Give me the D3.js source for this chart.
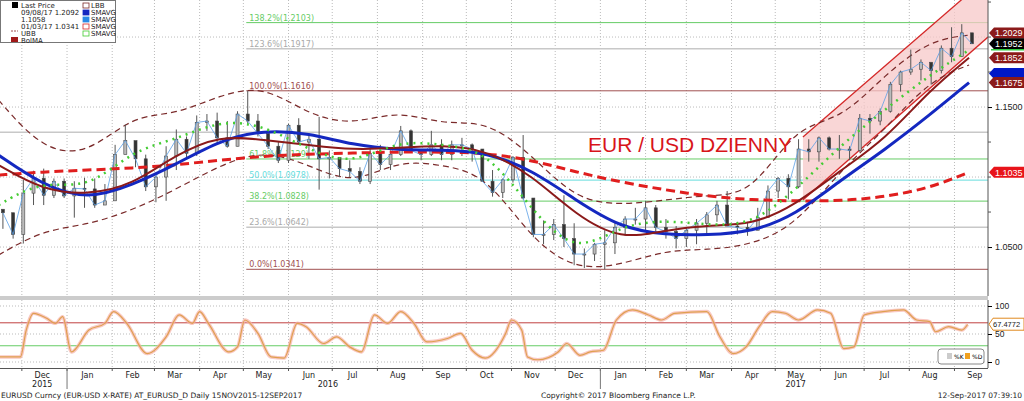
<!DOCTYPE html>
<html>
<head>
<meta charset="utf-8">
<script src="https://cdn.jsdelivr.net/npm/d3@7"></script>
<style>
  body { margin: 0; background: #fff; }
  svg { display: block; font-family: "DejaVu Sans", sans-serif; }
</style>
</head>
<body>
<div id="chart"></div>
<script>
// weekly candles, starting Mon 16 Nov 2015
const weekStart = "2015-11-16";
const closes = [1.0745,1.0590,1.0885,1.0990,1.0870,1.0970,1.0865,1.0920,1.0915,1.0800,1.0830,1.1160,1.1260,1.1130,1.0930,1.1000,1.1150,1.1270,1.1170,1.1390,1.1400,1.1280,1.1220,1.1450,1.1400,1.1310,1.1220,1.1120,1.1370,1.1250,1.1270,1.1130,1.1140,1.1060,1.1040,1.0970,1.1170,1.1090,1.1160,1.1330,1.1190,1.1160,1.1230,1.1160,1.1230,1.1230,1.1200,1.0970,1.0890,1.0980,1.1140,1.0850,1.0590,1.0590,1.0660,1.0560,1.0450,1.0450,1.0520,1.0530,1.0640,1.0700,1.0700,1.0780,1.0640,1.0610,1.0560,1.0620,1.0670,1.0730,1.0800,1.0650,1.0640,1.0620,1.0710,1.0900,1.0990,1.0930,1.1200,1.1180,1.1280,1.1200,1.1200,1.1190,1.1420,1.1400,1.1470,1.1660,1.1750,1.1770,1.1820,1.1760,1.1920,1.1860,1.2030,1.1952];
const highs = [1.0760,1.0720,1.0980,1.1045,1.1060,1.0990,1.0990,1.0970,1.0995,1.0990,1.0950,1.1230,1.1375,1.1250,1.1160,1.1010,1.1220,1.1340,1.1290,1.1440,1.1450,1.1460,1.1400,1.1470,1.1616,1.1450,1.1340,1.1250,1.1380,1.1420,1.1300,1.1430,1.1190,1.1120,1.1120,1.1070,1.1200,1.1230,1.1190,1.1365,1.1340,1.1190,1.1330,1.1270,1.1260,1.1280,1.1240,1.1200,1.1050,1.0990,1.1150,1.1300,1.0830,1.0690,1.0700,1.0870,1.0670,1.0490,1.0530,1.0620,1.0680,1.0720,1.0780,1.0830,1.0800,1.0700,1.0650,1.0640,1.0700,1.0750,1.0830,1.0900,1.0680,1.0680,1.0780,1.0940,1.1000,1.1020,1.1270,1.1270,1.1290,1.1290,1.1300,1.1220,1.1450,1.1450,1.1490,1.1680,1.1760,1.1910,1.1840,1.1810,1.1940,1.2070,1.2092,1.2030];
const lows = [1.0630,1.0560,1.0525,1.0800,1.0800,1.0850,1.0850,1.0710,1.0780,1.0780,1.0810,1.0830,1.1170,1.1070,1.0900,1.0820,1.0830,1.1050,1.1140,1.1150,1.1330,1.1230,1.1210,1.1220,1.1380,1.1290,1.1200,1.1100,1.1100,1.1240,1.1130,1.0910,1.0990,1.1000,1.1000,1.0950,1.0950,1.1050,1.1050,1.1150,1.1180,1.1120,1.1150,1.1120,1.1120,1.1150,1.1110,1.0970,1.0860,1.0850,1.0960,1.0840,1.0570,1.0520,1.0550,1.0500,1.0370,1.0350,1.0400,1.0341,1.0450,1.0580,1.0660,1.0620,1.0610,1.0560,1.0490,1.0500,1.0520,1.0600,1.0680,1.0650,1.0590,1.0580,1.0620,1.0710,1.0850,1.0840,1.0920,1.1110,1.1110,1.1190,1.1130,1.1120,1.1180,1.1310,1.1370,1.1460,1.1610,1.1730,1.1690,1.1660,1.1740,1.1820,1.1860,1.1950];

// studies read monthly, 15 Nov 2015 .. 11 Sep 2017
const smaStart = "2015-11-15";
const smaFast = [1.0800,1.0979,1.0907,1.1193,1.1264,1.1407,1.1371,1.1193,1.1086,1.1264,1.1229,1.1193,1.0764,1.0443,1.0657,1.0693,1.0657,1.0657,1.0907,1.1229,1.1479,1.1729,1.1907];
const sma50 = [1.1086,1.0907,1.0871,1.0943,1.1157,1.1300,1.1264,1.1229,1.1193,1.1207,1.1229,1.1193,1.1014,1.0729,1.0550,1.0621,1.0657,1.0657,1.0800,1.1050,1.1264,1.1621,1.1852];
const sma100 = [1.1157,1.0943,1.0836,1.0943,1.1086,1.1264,1.1336,1.1314,1.1229,1.1193,1.1193,1.1179,1.1050,1.0836,1.0636,1.0586,1.0586,1.0607,1.0729,1.0979,1.1193,1.1443,1.1675];
const sma200 = [1.1014,1.1036,1.1050,1.1064,1.1086,1.1121,1.1150,1.1164,1.1171,1.1179,1.1179,1.1171,1.1121,1.1036,1.0964,1.0907,1.0864,1.0836,1.0829,1.0829,1.0857,1.0921,1.1035];
const bbUpper = [1.1550,1.1193,1.1157,1.1443,1.1443,1.1586,1.1657,1.1443,1.1371,1.1479,1.1371,1.1407,1.1157,1.0836,1.0800,1.0836,1.0871,1.0871,1.1371,1.1407,1.1729,1.1979,1.2014];
const bbLower = [1.0443,1.0621,1.0657,1.0764,1.0907,1.1086,1.1193,1.1086,1.0943,1.1121,1.1086,1.1014,1.0550,1.0336,1.0371,1.0479,1.0479,1.0514,1.0657,1.1050,1.1336,1.1693,1.1800];

const fibLevels = [
  { name: "0.0%", v: 1.0341, c: "#a05050" },
  { name: "23.6%", v: 1.0642, c: "#c8c8c8" },
  { name: "38.2%", v: 1.0828, c: "#66cc66" },
  { name: "50.0%", v: 1.0978, c: "#66dddd" },
  { name: "61.8%", v: 1.1129, c: "#66cc66" },
  { name: "", v: 1.1320, c: "#c8c8c8" },
  { name: "100.0%", v: 1.1616, c: "#a05050" },
  { name: "123.6%", v: 1.1917, c: "#c8c8c8" },
  { name: "138.2%", v: 1.2103, c: "#66cc66" },
  { name: "", v: 1.2270, c: "#66dddd" }
];

const channelDates = ["2017-05-20", "2017-09-24"];
const channelUpper = [1.1286, 1.2430];
const channelLower = [1.0836, 1.2000];

const stochDates = ["2015-11-16","2015-11-30","2015-12-04","2015-12-09","2015-12-18","2015-12-24","2015-12-29","2016-01-04","2016-01-16","2016-01-27","2016-02-02","2016-02-11","2016-02-25","2016-03-09","2016-03-18","2016-03-27","2016-04-01","2016-04-07","2016-04-21","2016-04-27","2016-05-02","2016-05-11","2016-05-20","2016-05-29","2016-06-07","2016-06-13","2016-06-25","2016-07-04","2016-07-13","2016-07-21","2016-07-30","2016-08-08","2016-08-17","2016-08-26","2016-09-04","2016-09-18","2016-09-27","2016-10-05","2016-10-14","2016-10-28","2016-11-01","2016-11-08","2016-11-12","2016-11-19","2016-12-03","2016-12-09","2016-12-18","2016-12-25","2017-01-03","2017-01-12","2017-01-23","2017-02-03","2017-02-12","2017-02-21","2017-03-15","2017-03-24","2017-04-02","2017-04-11","2017-04-20","2017-04-29","2017-05-08","2017-05-17","2017-05-30","2017-06-08","2017-06-17","2017-06-24","2017-07-01","2017-07-14","2017-07-28","2017-08-06","2017-08-15","2017-08-19","2017-08-28","2017-09-06","2017-09-10"];
const stochD = [9,9,57,87,78,69,81,18,57,69,90,69,15,45,84,69,90,69,18,27,75,51,9,7,69,63,33,45,27,18,84,69,90,69,36,42,51,21,7,51,75,57,9,4,18,33,12,18,21,75,93,84,75,87,90,45,15,27,63,90,87,75,93,87,24,27,84,90,93,75,72,54,63,57,67];

const monthLabels = ["Dec","Jan","Feb","Mar","Apr","May","Jun","Jul","Aug","Sep","Oct","Nov","Dec","Jan","Feb","Mar","Apr","May","Jun","Jul","Aug","Sep"];
const rightTags = [
  { v: 1.2029, bg: "#8b1a1a" },
  { v: 1.1952, bg: "#000" },
  { v: 1.1852, bg: "#8b1a1a" },
  { v: 1.1740, bg: "#0018c8", hidden: true },
  { v: 1.1675, bg: "#8b1a1a" },
  { v: 1.1035, bg: "#e8141a" }
];

const W = 1024, H = 401;
const plotR = 988, plotB = 296;
const svg = d3.select("#chart").append("svg").attr("width", W).attr("height", H);

const parse = d3.timeParse("%Y-%m-%d");
const x = d3.scaleTime().domain([parse("2015-11-16"), parse("2017-09-24")]).range([0, plotR]);
const y = d3.scaleLinear().domain([1.0286, 1.2286]).range([277, -3]);
const ys = d3.scaleLinear().domain([0, 100]).range([362, 306]);

const wk0 = parse(weekStart);
const candles = closes.map((c, i) => ({
  d: d3.timeDay.offset(wk0, i * 7 + 2),
  o: i === 0 ? 1.0770 : closes[i - 1], c, h: highs[i], l: lows[i]
}));
const m0 = parse(smaStart);
const mDates = smaFast.map((_, i) => i === smaFast.length - 1 ? parse("2017-09-11") : d3.timeMonth.offset(m0, i));
const mline = arr => d3.line().x((d, i) => x(mDates[i])).y(d => y(d)).curve(d3.curveBasis)(arr);

const main = svg.append("g");
main.append("defs").append("clipPath").attr("id", "clipMain")
  .append("rect").attr("x", 0).attr("y", 0).attr("width", plotR).attr("height", plotB);
const g = main.append("g").attr("clip-path", "url(#clipMain)");

// grid
const monthStarts = d3.timeMonth.range(parse("2015-12-01"), parse("2017-09-24"));
g.selectAll(".vg").data(monthStarts).enter().append("line")
  .attr("x1", d => x(d)).attr("x2", d => x(d)).attr("y1", 0).attr("y2", plotB)
  .attr("stroke", "#bbb").attr("stroke-dasharray", "1,2");
g.selectAll(".hg").data([1.05, 1.10, 1.15, 1.20]).enter().append("line")
  .attr("x1", 0).attr("x2", plotR).attr("y1", d => y(d)).attr("y2", d => y(d))
  .attr("stroke", "#bbb").attr("stroke-dasharray", "1,2");

// fibonacci retracement
const fibX = x(parse("2016-05-03"));
fibLevels.forEach(f => {
  g.append("line").attr("x1", f.name ? fibX : 0).attr("x2", plotR).attr("y1", y(f.v)).attr("y2", y(f.v))
    .attr("stroke", f.c).attr("stroke-width", f.c === "#c8c8c8" ? 1.5 : 1);
  if (f.name) g.append("text").attr("x", fibX + 3).attr("y", y(f.v) - 2)
    .attr("font-size", 8).attr("fill", f.c === "#c8c8c8" ? "#aaa" : f.c).text(`${f.name}(${f.v.toFixed(4)})`);
});

// trend channel
const cd = channelDates.map(parse);
g.append("path")
  .attr("d", `M${x(cd[0])},${y(channelUpper[0])}L${x(cd[1])},${y(channelUpper[1])}L${x(cd[1])},${y(channelLower[1])}L${x(cd[0])},${y(channelLower[0])}Z`)
  .attr("fill", "#f7c8c8").attr("opacity", 0.75);
[channelUpper, channelLower].forEach(c => g.append("line")
  .attr("x1", x(cd[0])).attr("y1", y(c[0])).attr("x2", x(cd[1])).attr("y2", y(c[1]))
  .attr("stroke", "#d42828").attr("stroke-width", 1.3));

// bollinger
[bbUpper, bbLower].forEach(b => g.append("path").attr("d", mline(b)).attr("fill", "none")
  .attr("stroke", "#7a2a2a").attr("stroke-width", 1.2).attr("stroke-dasharray", "6,4"));

// candles
const cw = 3;
g.selectAll(".wick").data(candles).enter().append("line")
  .attr("x1", d => x(d.d)).attr("x2", d => x(d.d)).attr("y1", d => y(d.h)).attr("y2", d => y(d.l))
  .attr("stroke", "#555").attr("stroke-width", 1);
g.selectAll(".body").data(candles).enter().append("rect")
  .attr("x", d => x(d.d) - cw / 2).attr("width", cw)
  .attr("y", d => y(Math.max(d.o, d.c)))
  .attr("height", d => Math.max(1, Math.abs(y(d.o) - y(d.c))))
  .attr("fill", d => d.c >= d.o ? "#bbb" : "#333").attr("stroke", "#444").attr("stroke-width", 0.6);
g.append("path").datum(candles).attr("fill", "none").attr("stroke", "#5aa0e6").attr("stroke-width", 0.8)
  .attr("d", d3.line().x(d => x(d.d)).y(d => y(d.c)));

// moving averages
g.append("path").attr("d", mline(sma200)).attr("fill", "none").attr("stroke", "#e01e1e")
  .attr("stroke-width", 3).attr("stroke-dasharray", "9,5");
g.append("path").attr("d", mline(sma100)).attr("fill", "none").attr("stroke", "#1428c0").attr("stroke-width", 3);
g.append("path").attr("d", mline(sma50)).attr("fill", "none").attr("stroke", "#8b1a1a").attr("stroke-width", 2);
g.append("path").attr("d", mline(smaFast)).attr("fill", "none").attr("stroke", "#44cc33")
  .attr("stroke-width", 2.5).attr("stroke-dasharray", "2,5");

// title
svg.append("text").attr("x", 588).attr("y", 152).attr("font-family", "Liberation Sans, Arial, sans-serif")
  .attr("font-size", 21).attr("fill", "#d8141a").text("EUR / USD DZIENNY");

// right axis
svg.append("line").attr("x1", plotR).attr("x2", plotR).attr("y1", 0).attr("y2", plotB).attr("stroke", "#555");
const yAxis = svg.append("g").attr("transform", `translate(${plotR},0)`)
  .call(d3.axisRight(y).tickValues([1.05, 1.15]).tickFormat(d3.format(".4f")).tickSize(4));
yAxis.select(".domain").remove();
yAxis.selectAll("text").attr("font-size", 9).attr("fill", "#222").attr("font-family", "Liberation Sans, sans-serif");
svg.append("g").selectAll("line").data([1.075, 1.10, 1.125, 1.175, 1.20, 1.225]).enter().append("line")
  .attr("x1", plotR).attr("x2", plotR + 3).attr("y1", d => y(d)).attr("y2", d => y(d)).attr("stroke", "#555");

// right value tags
const tag = (parent, v, bg, fg, label) => {
  const cy = y(v);
  parent.append("path").attr("d", `M${plotR + 1},${cy}L${plotR + 6},${cy - 5.5}H${W}V${cy + 5.5}H${plotR + 6}Z`)
    .attr("fill", bg);
  if (label) parent.append("text").attr("x", plotR + 7).attr("y", cy + 3.5).attr("font-size", 9)
    .attr("font-family", "Liberation Sans, sans-serif").attr("fill", fg).text(label);
};
rightTags.forEach(t => tag(svg, t.v, t.bg, "#fff", t.hidden ? "" : t.v.toFixed(4)));
svg.append("line").attr("x1", plotR + 3).attr("x2", W).attr("y1", y(1.1952) + 6).attr("y2", y(1.1952) + 6)
  .attr("stroke", "#2ecc40").attr("stroke-width", 1.5);
tag(svg, 1.1675, "#8b1a1a", "#fff", "1.1675");

// legend box
const lg = svg.append("g").attr("font-size", 7).attr("fill", "#222");
lg.append("rect").attr("x", 0.5).attr("y", 0.5).attr("width", 115).attr("height", 42).attr("fill", "#fff").attr("stroke", "#777");
const leftRows = ["Last Price", "09/08/17 1.2092", "1.1058", "01/03/17 1.0341", "UBB", "BolMA"];
const rightRows = ["LBB", "SMAVG", "SMAVG", "SMAVG", "SMAVG"];
const rightSw = ["#7a2a2a", "#1428c0", "#2a8ae6", "#d42828", "#44cc33"];
leftRows.forEach((t, i) => lg.append("text").attr("x", 21).attr("y", 8 + i * 7).text(t));
lg.append("rect").attr("x", 12).attr("y", 2).attr("width", 6).attr("height", 6).attr("fill", "#000");
lg.append("rect").attr("x", 11).attr("y", 37).attr("width", 7).attr("height", 5).attr("fill", "#a01818");
lg.append("path").attr("d", "M11,31h7").attr("stroke", "#a05050").attr("stroke-dasharray", "2,1");
rightRows.forEach((t, i) => {
  lg.append("text").attr("x", 91).attr("y", 8 + i * 7).text(t);
  lg.append("rect").attr("x", 83).attr("y", 3 + i * 7).attr("width", 6).attr("height", 5)
    .attr("fill", i === 1 || i === 2 ? rightSw[i] : "none").attr("stroke", rightSw[i]).attr("stroke-width", 0.8);
});

// panel separator
svg.append("rect").attr("x", 0).attr("y", plotB).attr("width", plotR).attr("height", 4).attr("fill", "#ccc");

// stochastic panel
const sp = svg.append("g");
const sDates = stochDates.map(parse);
sp.selectAll(".sg").data(monthStarts).enter().append("line")
  .attr("x1", d => x(d)).attr("x2", d => x(d)).attr("y1", 300).attr("y2", 368)
  .attr("stroke", "#bbb").attr("stroke-dasharray", "1,2");
[100, 50, 0].forEach(v => sp.append("line").attr("x1", 0).attr("x2", plotR).attr("y1", ys(v)).attr("y2", ys(v))
  .attr("stroke", "#bbb").attr("stroke-dasharray", "1,2"));
sp.append("line").attr("x1", 0).attr("x2", plotR).attr("y1", ys(70)).attr("y2", ys(70)).attr("stroke", "#c04040");
sp.append("line").attr("x1", 0).attr("x2", plotR).attr("y1", ys(29)).attr("y2", ys(29)).attr("stroke", "#66cc66");
const sline = d3.line().x((d, i) => x(sDates[i])).y(d => ys(d)).curve(d3.curveMonotoneX);
sp.append("path").attr("d", sline(stochD)).attr("fill", "none").attr("stroke", "#f6b0a8").attr("stroke-width", 3.5).attr("opacity", 0.7);
sp.append("path").attr("d", sline(stochD)).attr("fill", "none").attr("stroke", "#dfa050").attr("stroke-width", 1.2);
sp.append("line").attr("x1", plotR).attr("x2", plotR).attr("y1", 300).attr("y2", 368).attr("stroke", "#555");
const sAxis = sp.append("g").attr("transform", `translate(${plotR},0)`)
  .call(d3.axisRight(ys).tickValues([0, 50, 100]).tickSize(4));
sAxis.select(".domain").remove();
sAxis.selectAll("text").attr("font-size", 8.5).attr("fill", "#222").attr("font-family", "Liberation Sans, sans-serif");
{
  const cy = ys(67.4772);
  sp.append("path").attr("d", `M${plotR + 1},${cy}L${plotR + 5},${cy - 6}H${W}V${cy + 6}H${plotR + 5}Z`)
    .attr("fill", "#fff").attr("stroke", "#e08a20");
  sp.append("text").attr("x", plotR + 5).attr("y", cy + 3).attr("font-size", 7.5)
    .attr("font-family", "Liberation Sans Narrow, Liberation Sans, sans-serif").attr("fill", "#222").text("67.4772");
}
sp.append("rect").attr("x", 938).attr("y", 349).attr("width", 46).attr("height", 15).attr("rx", 3)
  .attr("fill", "#fff").attr("stroke", "#888");
sp.append("rect").attr("x", 947).attr("y", 353).attr("width", 5).attr("height", 6).attr("fill", "#ccc");
sp.append("text").attr("x", 954).attr("y", 359).attr("font-size", 6).text("%K");
sp.append("rect").attr("x", 965).attr("y", 353).attr("width", 5).attr("height", 6).attr("fill", "#f0a020");
sp.append("text").attr("x", 972).attr("y", 359).attr("font-size", 6).text("%D");

// bottom axis
svg.append("line").attr("x1", 0).attr("x2", plotR).attr("y1", 368.5).attr("y2", 368.5).attr("stroke", "#555");
const midMonths = monthLabels.map((_, i) => d3.timeDay.offset(d3.timeMonth.offset(parse("2015-12-01"), i), 14));
svg.selectAll(".ml").data(midMonths).enter().append("text")
  .attr("x", d => x(d)).attr("y", 378).attr("text-anchor", "middle").attr("font-size", 8).attr("fill", "#222")
  .text((d, i) => monthLabels[i]);
svg.selectAll(".mt").data(monthStarts).enter().append("line")
  .attr("x1", d => x(d)).attr("x2", d => x(d)).attr("y1", 368).attr("y2", 371).attr("stroke", "#555");
[["2015", "2015-12-15"], ["2016", "2016-06-28"], ["2017", "2017-05-15"]].forEach(([t, d]) =>
  svg.append("text").attr("x", x(parse(d))).attr("y", 387).attr("text-anchor", "middle").attr("font-size", 8).attr("fill", "#222").text(t));
["2016-01-01", "2017-01-01"].forEach(d => svg.append("line")
  .attr("x1", x(parse(d))).attr("x2", x(parse(d))).attr("y1", 368).attr("y2", 389).attr("stroke", "#777"));

// footer
const ft = svg.append("g").attr("font-size", 7.5).attr("fill", "#222");
ft.append("text").attr("x", 1).attr("y", 398).text("EURUSD Curncy (EUR-USD X-RATE) AT_EURUSD_D  Daily 15NOV2015-12SEP2017");
ft.append("text").attr("x", 541).attr("y", 398).text("Copyright\u00a9 2017 Bloomberg Finance L.P.");
ft.append("text").attr("x", 1022).attr("y", 398).attr("text-anchor", "end").text("12-Sep-2017 07:39:10");
</script>
</body>
</html>
